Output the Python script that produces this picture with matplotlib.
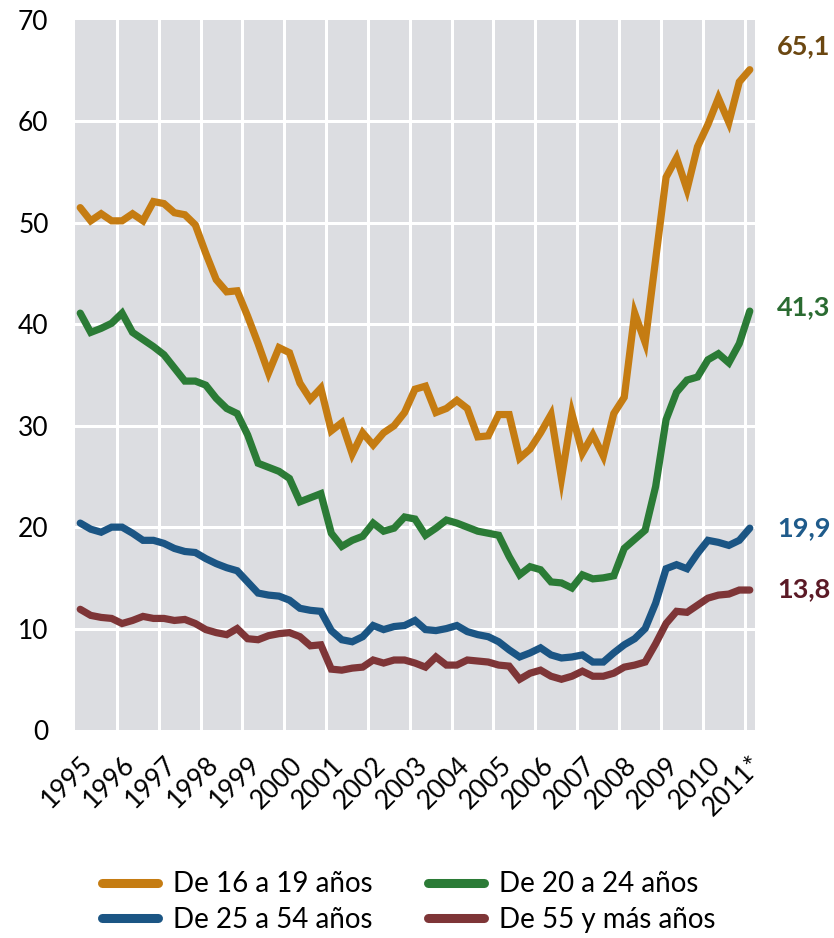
import matplotlib
matplotlib.use("Agg")
import matplotlib.pyplot as plt
import numpy as np

# Quarterly data, 1995 Q1 .. 2011 Q1 (65 quarters)
years = ["1995", "1996", "1997", "1998", "1999", "2000", "2001", "2002", "2003",
         "2004", "2005", "2006", "2007", "2008", "2009", "2010", "2011*"]

s16_19 = [51.5, 50.2, 50.9, 50.2, 50.2, 50.9, 50.2, 52.1, 51.9, 51.0, 50.8, 49.8,
          47.0, 44.4, 43.2, 43.3, 40.8, 38.1, 35.2, 37.7, 37.2, 34.2, 32.6, 33.7,
          29.5, 30.3, 27.2, 29.3, 28.1, 29.3, 30.0, 31.3, 33.6, 33.9, 31.3, 31.7,
          32.5, 31.7, 28.9, 29.0, 31.1, 31.1, 26.8, 27.7, 29.3, 31.1, 24.8, 31.2,
          27.3, 29.1, 27.0, 31.2, 32.8, 41.1, 38.2, 46.4, 54.5, 56.4, 53.3, 57.5,
          59.7, 62.3, 59.9, 63.9, 65.1]

s20_24 = [41.1, 39.2, 39.6, 40.1, 41.1, 39.2, 38.5, 37.8, 37.0, 35.7, 34.4, 34.4,
          34.0, 32.7, 31.7, 31.2, 29.1, 26.3, 25.9, 25.5, 24.8, 22.5, 22.9, 23.3,
          19.4, 18.1, 18.7, 19.1, 20.4, 19.6, 19.9, 21.0, 20.8, 19.2, 19.9, 20.7,
          20.4, 20.0, 19.6, 19.4, 19.2, 17.1, 15.3, 16.1, 15.8, 14.6, 14.5, 14.0,
          15.3, 14.9, 15.0, 15.2, 17.9, 18.8, 19.7, 24.0, 30.6, 33.3, 34.5, 34.8,
          36.5, 37.1, 36.2, 38.1, 41.3]

s25_54 = [20.4, 19.8, 19.5, 20.0, 20.0, 19.4, 18.7, 18.7, 18.4, 17.9, 17.6, 17.5,
          16.9, 16.4, 16.0, 15.7, 14.6, 13.5, 13.3, 13.2, 12.8, 12.0, 11.8, 11.7,
          9.8, 8.9, 8.7, 9.2, 10.3, 9.9, 10.2, 10.3, 10.8, 9.9, 9.8, 10.0,
          10.3, 9.7, 9.4, 9.2, 8.7, 7.9, 7.2, 7.6, 8.1, 7.4, 7.1, 7.2,
          7.4, 6.7, 6.7, 7.6, 8.4, 9.0, 10.0, 12.5, 15.9, 16.3, 15.9, 17.4,
          18.7, 18.5, 18.2, 18.7, 19.9]

s55 = [11.9, 11.3, 11.1, 11.0, 10.5, 10.8, 11.2, 11.0, 11.0, 10.8, 10.9, 10.5,
       9.9, 9.6, 9.4, 10.0, 9.0, 8.9, 9.3, 9.5, 9.6, 9.2, 8.3, 8.4,
       6.0, 5.9, 6.1, 6.2, 6.9, 6.6, 6.9, 6.9, 6.6, 6.2, 7.2, 6.4,
       6.4, 6.9, 6.8, 6.7, 6.4, 6.3, 5.0, 5.6, 5.9, 5.3, 5.0, 5.3,
       5.8, 5.3, 5.3, 5.6, 6.2, 6.4, 6.7, 8.5, 10.5, 11.7, 11.6, 12.3,
       13.0, 13.3, 13.4, 13.8, 13.8]

series_names = ["De 16 a 19 años", "De 20 a 24 años", "De 25 a 54 años", "De 55 y más años"]
end_labels = ["65,1", "41,3", "19,9", "13,8"]

colors = ["#C57C12", "#2B7B36", "#1B5584", "#7E3537"]
label_colors = ["#6B4711", "#2A6B31", "#1F5B8B", "#5B1A26"]
label_offsets = [2.3, 0.4, 0.0, 0.1]

plt.rcParams['font.family'] = ['Lato', 'DejaVu Sans']

fig = plt.figure(figsize=(8.34, 9.38), dpi=100)
ax = fig.add_axes([75/834, 1-730/938, 680/834, 710/938])
ax.set_facecolor("#DCDDE1")

data = [s16_19, s20_24, s25_54, s55]
x = np.arange(len(s16_19))
lines = []
for vals, c, name in zip(data, colors, series_names):
    ln, = ax.plot(x, vals, color=c, lw=5.2, solid_joinstyle='miter',
                  solid_capstyle='round', label=name, zorder=3)
    lines.append(ln)

ax.set_xlim(-0.5, len(x) - 0.5)
ax.set_ylim(0, 70)

# gridlines
for k in range(1, 17):
    ax.axvline(4*k - 0.5, color='white', lw=2.2, zorder=1)
for yv in range(10, 70, 10):
    ax.axhline(yv, color='white', lw=2.2, zorder=1)

ax.set_yticks(range(0, 71, 10))
ax.tick_params(axis='y', length=0, labelsize=19, pad=19)
ax.set_xticks(np.arange(0, len(x), 4))
ax.set_xticklabels(years, rotation=45, ha='right', rotation_mode='anchor', fontsize=19)
ax.tick_params(axis='x', length=0, pad=16)
for sp in ax.spines.values():
    sp.set_visible(False)

for vals, lab, lc, off in zip(data, end_labels, label_colors, label_offsets):
    ax.annotate(lab, xy=(1.0, vals[-1] + off), xycoords=('axes fraction', 'data'),
                xytext=(16, 0), textcoords='offset points', fontsize=19.5,
                fontweight='bold', color=lc, va='center', ha='left')

order = [0, 2, 1, 3]
leg = fig.legend([lines[i] for i in order], [series_names[i] for i in order],
                 ncol=2, loc='center', bbox_to_anchor=(0.49, 0.038),
                 frameon=False, fontsize=20, handlelength=2.0, handletextpad=0.55,
                 columnspacing=2.0, labelspacing=0.35)
for lh in leg.get_lines():
    lh.set_linewidth(6.5)
    lh.set_solid_capstyle('round')

fig.savefig("out.png", dpi=100)
